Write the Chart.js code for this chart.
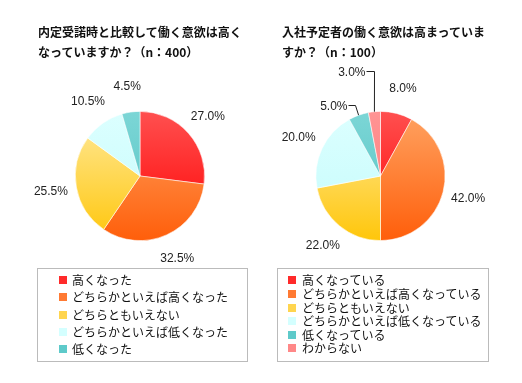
<!DOCTYPE html>
<html><head><meta charset="utf-8">
<script src="https://cdn.jsdelivr.net/npm/chart.js@4/dist/chart.umd.min.js"></script>
<style>
html,body{margin:0;padding:0;background:#fff;width:522px;height:383px;overflow:hidden;}
.t{position:absolute;font:bold 12px "Noto Sans CJK JP";line-height:20px;color:#111;white-space:nowrap;}
.lg{position:absolute;border:1px solid #bbb;box-sizing:border-box;}
.it{position:absolute;white-space:nowrap;font:12px "Noto Sans CJK JP";line-height:14px;color:#111;}
.sw{position:absolute;width:8px;height:8px;}
canvas{position:absolute;left:0;top:0;}
</style>
</head><body>
<canvas id="c1" width="522" height="383"></canvas>
<canvas id="c2" width="522" height="383"></canvas>
<script>
// ---- data ----
const leftTitle = ['内定受諾時と比較して働く意欲は高く', 'なっていますか？（n：400）'];
const leftCategories = ['高くなった', 'どちらかといえば高くなった', 'どちらともいえない', 'どちらかといえば低くなった', '低くなった'];
const leftValues = [27.0, 32.5, 25.5, 10.5, 4.5];

const rightTitle = ['入社予定者の働く意欲は高まっていま', 'すか？（n：100）'];
const rightCategories = ['高くなっている', 'どちらかといえば高くなっている', 'どちらともいえない', 'どちらかといえば低くなっている', '低くなっている', 'わからない'];
const rightValues = [8.0, 42.0, 22.0, 20.0, 5.0, 3.0];

// ---- styles ----
const palette = [
  ['#ff5050', '#ff0000'],
  ['#ffa362', '#ff5e0a'],
  ['#ffea9e', '#ffc60a'],
  ['#dcffff', '#c4fbfb'],
  ['#7cd6d6', '#52c2c2'],
  ['#ff9494', '#ff7a7a']
];
const swatch = ['#ff2a2a', '#ff7a33', '#ffd54f', '#d4ffff', '#5ecaca', '#ff8888'];

function grad(ctx) {
  const chart = ctx.chart, area = chart.chartArea;
  const p = palette[ctx.dataIndex % palette.length];
  if (!area) return p[1];
  const g = chart.ctx.createLinearGradient(0, area.top, 0, area.bottom);
  g.addColorStop(0, p[0]);
  g.addColorStop(1, p[1]);
  return g;
}

const labelPlugin = {
  id: 'pieLabels',
  afterDatasetsDraw(chart, args, opts) {
    const ctx = chart.ctx;
    const meta = chart.getDatasetMeta(0);
    const vals = chart.data.datasets[0].data;
    ctx.save();
    ctx.font = '12px "Liberation Sans", Arial, sans-serif';
    ctx.fillStyle = '#222';
    ctx.strokeStyle = '#222';
    ctx.lineWidth = 1;
    meta.data.forEach((arc, i) => {
      const {x, y, startAngle, endAngle, outerRadius} = arc.getProps(['x', 'y', 'startAngle', 'endAngle', 'outerRadius'], true);
      const mid = (startAngle + endAngle) / 2;
      const dx = Math.cos(mid), dy = Math.sin(mid);
      const txt = vals[i].toFixed(1) + '%';
      const ld = (opts.leaders || {})[i];
      if (ld) {
        const ex = x + dx * outerRadius, ey = y + dy * outerRadius;
        let bx, by;
        if (ld.type === 'vertical') { bx = ex; by = ey - ld.len; }
        else { bx = ex + dx * ld.len; by = ey + dy * ld.len; }
        bx = Math.round(bx) + 0.5; by = Math.round(by) + 0.5;
        ctx.beginPath();
        ctx.moveTo(ex, ey);
        ctx.lineTo(bx, by);
        ctx.lineTo(bx - ld.h, by);
        ctx.stroke();
        ctx.textAlign = 'right';
        ctx.textBaseline = 'middle';
        ctx.fillText(txt, bx - ld.h - 1, by + 1);
      } else {
        const r = outerRadius * opts.factor;
        ctx.textAlign = 'center';
        ctx.textBaseline = 'middle';
        ctx.fillText(txt, x + dx * r, y + dy * r);
      }
    });
    ctx.restore();
  }
};

function makeChart(id, cats, vals, pad, leaders) {
  return new Chart(document.getElementById(id), {
    type: 'pie',
    data: {
      labels: cats,
      datasets: [{
        data: vals,
        backgroundColor: grad,
        borderColor: 'rgba(255,255,255,0.7)',
        borderWidth: 0.8
      }]
    },
    options: {
      responsive: false,
      animation: false,
      events: [],
      layout: {padding: pad},
      plugins: {
        legend: {display: false},
        tooltip: {enabled: false},
        pieLabels: {factor: 1.4, leaders: leaders}
      }
    },
    plugins: [labelPlugin]
  });
}

makeChart('c1', leftCategories, leftValues, {left: 75, right: 317, top: 111, bottom: 142}, {});
makeChart('c2', rightCategories, rightValues, {left: 315, right: 76, top: 111, bottom: 142},
  {4: {type: 'radial', len: 11, h: 7}, 5: {type: 'vertical', len: 41, h: 8}});

// ---- titles & legends (HTML text) ----
function addTitle(lines, x, y) {
  lines.forEach((s, i) => {
    const d = document.createElement('div');
    d.className = 't';
    d.style.left = x + 'px';
    d.style.top = (y + i * 20) + 'px';
    d.textContent = s;
    document.body.appendChild(d);
  });
}
function addLegend(cats, box, swX, txX, y0, step) {
  const b = document.createElement('div');
  b.className = 'lg';
  b.style.left = box[0] + 'px'; b.style.top = box[1] + 'px';
  b.style.width = box[2] + 'px'; b.style.height = box[3] + 'px';
  document.body.appendChild(b);
  cats.forEach((c, i) => {
    const cy = y0 + i * step;
    const s = document.createElement('div');
    s.className = 'sw';
    s.style.left = swX + 'px';
    s.style.top = Math.round(cy - 4) + 'px';
    s.style.background = swatch[i];
    document.body.appendChild(s);
    const t = document.createElement('div');
    t.className = 'it';
    t.style.left = txX + 'px';
    t.style.top = Math.round(cy - 7) + 'px';
    t.textContent = c;
    document.body.appendChild(t);
  });
}
addTitle(leftTitle, 38, 22);
addTitle(rightTitle, 282, 22);
addLegend(leftCategories, [37, 268, 211, 94], 59, 72, 280, 17.3);
addLegend(rightCategories, [277, 268, 212, 94], 288, 302, 280.3, 13.6);
</script>
</body></html>
